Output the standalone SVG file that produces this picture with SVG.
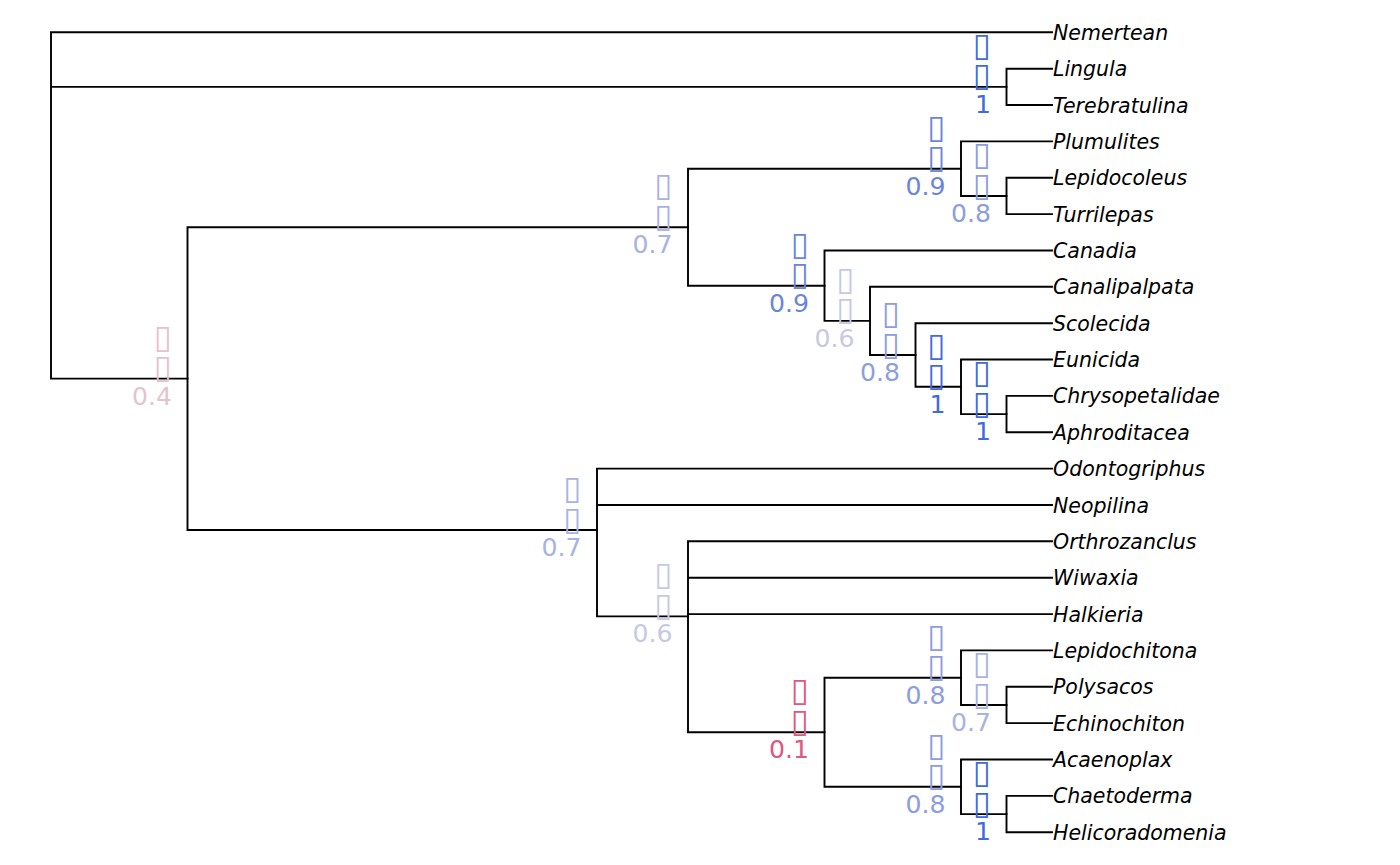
<svg xmlns="http://www.w3.org/2000/svg" width="1400" height="865" viewBox="0 0 1400 865">
<style>
.e{fill:none;stroke:#000;stroke-width:1.9;stroke-linecap:square}
.tip{font-family:"DejaVu Sans",sans-serif;font-style:italic;font-size:20.5px;fill:#000}
.nl{font-family:"DejaVu Sans",sans-serif;font-size:24px;text-anchor:end}
.b{font-size:33px}
.v10{fill:#4169E1}.v09{fill:#6A85DC}.v08{fill:#8C9DE0}.v07{fill:#A9B2E2}.v06{fill:#C7C9E4}.v04{fill:#E5C3CE}.v01{fill:#DE5880}
</style>
<rect width="1400" height="865" fill="#fff"/>
<g id="edges">
<path class="e" d="M51,32.3V378.6M51,32.3H1052M51,86.9H1006.5M51,378.6H187.5"/>
<path class="e" d="M1006.5,68.7V105M1006.5,68.7H1052M1006.5,105H1052"/>
<path class="e" d="M187.5,227.2V530M187.5,227.2H688M187.5,530H597"/>
<path class="e" d="M688,168.7V285.7M688,168.7H961M688,285.7H824.5"/>
<path class="e" d="M961,141.4V196M961,141.4H1052M961,196H1006.5"/>
<path class="e" d="M1006.5,177.8V214.1M1006.5,177.8H1052M1006.5,214.1H1052"/>
<path class="e" d="M824.5,250.5V320.9M824.5,250.5H1052M824.5,320.9H870"/>
<path class="e" d="M870,286.8V355M870,286.8H1052M870,355H915.5"/>
<path class="e" d="M915.5,323.2V386.8M915.5,323.2H1052M915.5,386.8H961"/>
<path class="e" d="M961,359.5V414.1M961,359.5H1052M961,414.1H1006.5"/>
<path class="e" d="M1006.5,395.9V432.3M1006.5,395.9H1052M1006.5,432.3H1052"/>
<path class="e" d="M597,468.6V616.4M597,468.6H1052M597,505H1052M597,616.4H688"/>
<path class="e" d="M688,541.3V732.3M688,541.3H1052M688,577.7H1052M688,614.1H1052M688,732.3H824.5"/>
<path class="e" d="M824.5,677.7V786.8M824.5,677.7H961M824.5,786.8H961"/>
<path class="e" d="M961,650.4V705M961,650.4H1052M961,705H1006.5"/>
<path class="e" d="M1006.5,686.8V723.1M1006.5,686.8H1052M1006.5,723.1H1052"/>
<path class="e" d="M961,759.5V814.1M961,759.5H1052M961,814.1H1006.5"/>
<path class="e" d="M1006.5,795.9V832.2M1006.5,795.9H1052M1006.5,832.2H1052"/>
</g>
<g id="tips" class="tip">
<text x="1053" y="39.8">Nemertean</text>
<text x="1053" y="76.2">Lingula</text>
<text x="1053" y="112.5">Terebratulina</text>
<text x="1053" y="148.9">Plumulites</text>
<text x="1053" y="185.3">Lepidocoleus</text>
<text x="1053" y="221.6">Turrilepas</text>
<text x="1053" y="258">Canadia</text>
<text x="1053" y="294.3">Canalipalpata</text>
<text x="1053" y="330.7">Scolecida</text>
<text x="1053" y="367">Eunicida</text>
<text x="1053" y="403.4">Chrysopetalidae</text>
<text x="1053" y="439.8">Aphroditacea</text>
<text x="1053" y="476.1">Odontogriphus</text>
<text x="1053" y="512.5">Neopilina</text>
<text x="1053" y="548.8">Orthrozanclus</text>
<text x="1053" y="585.2">Wiwaxia</text>
<text x="1053" y="621.6">Halkieria</text>
<text x="1053" y="657.9">Lepidochitona</text>
<text x="1053" y="694.3">Polysacos</text>
<text x="1053" y="730.6">Echinochiton</text>
<text x="1053" y="767">Acaenoplax</text>
<text x="1053" y="803.4">Chaetoderma</text>
<text x="1053" y="839.7">Helicoradomenia</text>
</g>
<g id="nB" class="nl v10"><text class="b" x="991" y="55.9">▯</text><text class="b" x="991" y="86.4">▯</text><text x="991" y="112.9" textLength="16" lengthAdjust="spacingAndGlyphs">1</text></g>
<g id="nA" class="nl v04"><text class="b" x="172" y="347.6">▯</text><text class="b" x="172" y="378.1">▯</text><text x="172" y="404.6" textLength="40" lengthAdjust="spacingAndGlyphs">0.4</text></g>
<g id="nC" class="nl v07"><text class="b" x="672.5" y="196.2">▯</text><text class="b" x="672.5" y="226.7">▯</text><text x="672.5" y="253.2" textLength="40" lengthAdjust="spacingAndGlyphs">0.7</text></g>
<g id="nD" class="nl v09"><text class="b" x="945.5" y="137.7">▯</text><text class="b" x="945.5" y="168.2">▯</text><text x="945.5" y="194.7" textLength="40" lengthAdjust="spacingAndGlyphs">0.9</text></g>
<g id="nE" class="nl v08"><text class="b" x="991" y="165">▯</text><text class="b" x="991" y="195.5">▯</text><text x="991" y="222" textLength="40" lengthAdjust="spacingAndGlyphs">0.8</text></g>
<g id="nF" class="nl v09"><text class="b" x="809" y="254.7">▯</text><text class="b" x="809" y="285.2">▯</text><text x="809" y="311.7" textLength="40" lengthAdjust="spacingAndGlyphs">0.9</text></g>
<g id="nG" class="nl v06"><text class="b" x="854.5" y="289.9">▯</text><text class="b" x="854.5" y="320.4">▯</text><text x="854.5" y="346.9" textLength="40" lengthAdjust="spacingAndGlyphs">0.6</text></g>
<g id="nH" class="nl v08"><text class="b" x="900" y="324">▯</text><text class="b" x="900" y="354.5">▯</text><text x="900" y="381" textLength="40" lengthAdjust="spacingAndGlyphs">0.8</text></g>
<g id="nI" class="nl v10"><text class="b" x="945.5" y="355.8">▯</text><text class="b" x="945.5" y="386.3">▯</text><text x="945.5" y="412.8" textLength="16" lengthAdjust="spacingAndGlyphs">1</text></g>
<g id="nJ" class="nl v10"><text class="b" x="991" y="383.1">▯</text><text class="b" x="991" y="413.6">▯</text><text x="991" y="440.1" textLength="16" lengthAdjust="spacingAndGlyphs">1</text></g>
<g id="nK" class="nl v07"><text class="b" x="581.5" y="499">▯</text><text class="b" x="581.5" y="529.5">▯</text><text x="581.5" y="556" textLength="40" lengthAdjust="spacingAndGlyphs">0.7</text></g>
<g id="nL" class="nl v06"><text class="b" x="672.5" y="585.4">▯</text><text class="b" x="672.5" y="615.9">▯</text><text x="672.5" y="642.4" textLength="40" lengthAdjust="spacingAndGlyphs">0.6</text></g>
<g id="nM" class="nl v01"><text class="b" x="809" y="701.3">▯</text><text class="b" x="809" y="731.8">▯</text><text x="809" y="758.3" textLength="40" lengthAdjust="spacingAndGlyphs">0.1</text></g>
<g id="nN" class="nl v08"><text class="b" x="945.5" y="646.7">▯</text><text class="b" x="945.5" y="677.2">▯</text><text x="945.5" y="703.7" textLength="40" lengthAdjust="spacingAndGlyphs">0.8</text></g>
<g id="nO" class="nl v07"><text class="b" x="991" y="674">▯</text><text class="b" x="991" y="704.5">▯</text><text x="991" y="731" textLength="40" lengthAdjust="spacingAndGlyphs">0.7</text></g>
<g id="nP" class="nl v08"><text class="b" x="945.5" y="755.8">▯</text><text class="b" x="945.5" y="786.3">▯</text><text x="945.5" y="812.8" textLength="40" lengthAdjust="spacingAndGlyphs">0.8</text></g>
<g id="nQ" class="nl v10"><text class="b" x="991" y="783.1">▯</text><text class="b" x="991" y="813.6">▯</text><text x="991" y="840.1" textLength="16" lengthAdjust="spacingAndGlyphs">1</text></g>
</svg>
